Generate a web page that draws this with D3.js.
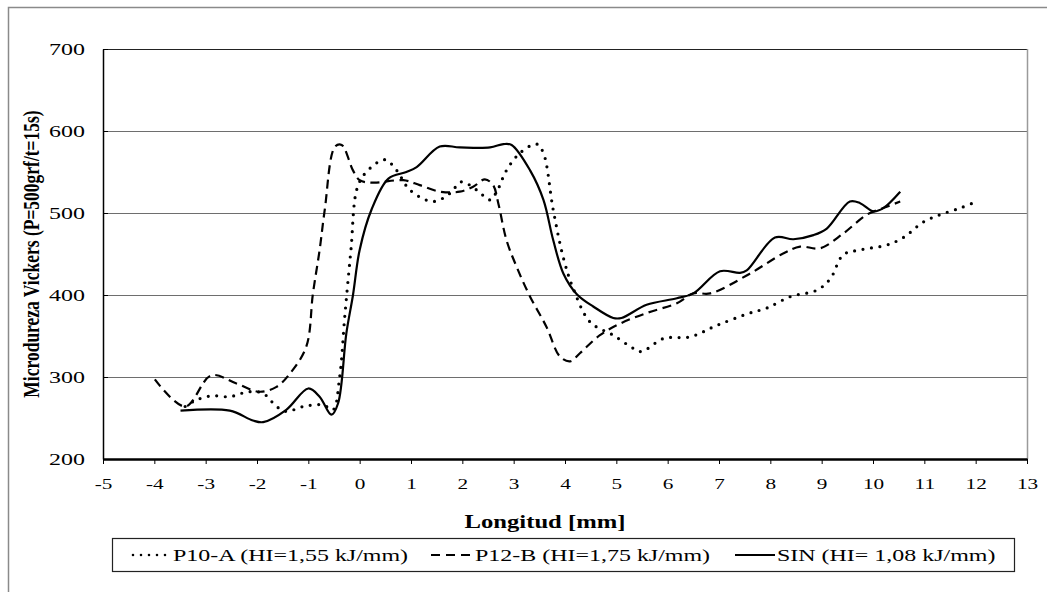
<!DOCTYPE html>
<html>
<head>
<meta charset="utf-8">
<script src="https://cdnjs.cloudflare.com/ajax/libs/d3/7.8.5/d3.min.js"></script>
<style>
  body { margin: 0; background: #fff; }
  svg { display: block; font-family: "Liberation Serif", "Times New Roman", serif; }
  .grid line { stroke: #6e6e6e; stroke-width: 1; }
</style>
</head>
<body>
<svg id="chart" width="1047" height="592"></svg>
<script>
// tick labels
var xTicks = [-5,-4,-3,-2,-1,0,1,2,3,4,5,6,7,8,9,10,11,12,13];
var yTicks = [200,300,400,500,600,700];

// P10-A (dotted)
var p10X = [-3.4,-3.18,-2.89,-2.53,-2.17,-1.88,-1.62,-1.43,-1.10,-0.71,-0.52,-0.39,-0.29,-0.17,-0.05,0.13,0.49,0.72,0.98,1.43,1.76,1.98,2.28,2.54,2.67,2.86,3.12,3.45,3.58,3.77,3.97,4.16,4.49,4.94,5.33,5.49,5.92,6.44,6.96,7.60,7.93,8.39,8.91,9.17,9.42,9.75,10.27,10.59,10.98,11.31,11.70,12.02];
var p10Y = [264,272,277,276,282,280,264,258,264,266,260,300,374,455,530,550,565,552,528,514,524,538,528,516,526,552,573,584,573,504,445,408,367,351,335,331,347,349,363,378,384,398,406,420,449,455,461,470,489,498,506,514];

// P12-B (dashed)
var p12X = [-3.99,-3.40,-2.89,-2.40,-1.95,-1.62,-1.36,-1.04,-0.91,-0.78,-0.68,-0.48,-0.35,-0.13,0.0,0.26,0.85,1.17,1.56,1.95,2.21,2.44,2.60,2.70,2.86,3.06,3.32,3.64,3.90,4.10,4.29,4.68,5.07,5.59,6.18,6.50,6.83,7.60,8.26,8.58,8.97,9.42,9.88,10.2,10.53];
var p12Y = [297,264,302,292,282,288,304,337,402,455,504,581,583,552,540,537,540,534,526,526,532,541,534,512,467,434,398,361,325,319,329,351,365,378,390,402,402,426,451,459,457,475,498,506,514];

// SIN (solid)
var sinX = [-3.49,-2.53,-2.08,-1.88,-1.43,-1.0,-0.78,-0.55,-0.42,-0.26,-0.13,0.0,0.23,0.56,0.91,1.11,1.56,1.95,2.54,2.80,2.96,3.32,3.58,3.77,3.97,4.23,4.55,4.94,5.10,5.59,6.18,6.50,7.02,7.41,7.54,8.09,8.45,8.84,9.10,9.55,9.75,10.01,10.2,10.53];
var sinY = [259,259,247,245,260,286,276,254,268,353,400,455,504,542,550,556,581,580,580,584,583,552,516,467,426,401,386,372,372,388,396,402,429,427,430,470,468,473,481,514,512,502,506,526];

var seriesNames = ["P10-A (HI=1,55 kJ/mm)", "P12-B (HI=1,75 kJ/mm)", "SIN (HI= 1,08 kJ/mm)"];

var stretch = 1.37; // the reference text is horizontally widened

var svg = d3.select("#chart");
var plotLeft = 103, plotRight = 1027, plotTop = 49, plotBottom = 459;

var x = d3.scaleLinear().domain([-5, 13]).range([plotLeft, plotRight]);
var y = d3.scaleLinear().domain([200, 700]).range([plotBottom, plotTop]);

// outer chart border (cropped on right / bottom)
svg.append("rect")
    .attr("x", 8.5).attr("y", 7.5)
    .attr("width", 1100).attr("height", 700)
    .attr("fill", "none").attr("stroke", "#8a8a8a").attr("stroke-width", 1.5);

// gridlines
svg.append("g")
    .attr("class", "grid")
    .selectAll("line")
    .data(yTicks.filter(function(d) { return d > 200 && d < 700; }))
  .enter().append("line")
    .attr("x1", plotLeft).attr("x2", plotRight)
    .attr("y1", function(d) { return Math.round(y(d)) + 0.5; })
    .attr("y2", function(d) { return Math.round(y(d)) + 0.5; });

// top border and right edge
svg.append("line")
    .attr("x1", plotLeft).attr("x2", plotRight)
    .attr("y1", plotTop + 0.5).attr("y2", plotTop + 0.5)
    .attr("stroke", "#222").attr("stroke-width", 1.2);
svg.append("line")
    .attr("x1", plotRight + 0.5).attr("x2", plotRight + 0.5)
    .attr("y1", plotTop).attr("y2", plotBottom)
    .attr("stroke", "#9a9a9a").attr("stroke-width", 1.5);

var plain = function(d) { return String(d); };

// y axis
var yAxis = d3.axisLeft(y).tickValues(yTicks).tickFormat(plain)
    .tickSizeInner(-5).tickSizeOuter(0).tickPadding(0);
var gy = svg.append("g")
    .attr("transform", "translate(" + plotLeft + ",0)")
    .call(yAxis);
gy.select(".domain").attr("stroke", "#000").attr("stroke-width", 1.5);
gy.selectAll(".tick line").attr("stroke", "#000");
gy.selectAll(".tick text")
    .attr("x", 0)
    .attr("text-anchor", "end")
    .attr("transform", "translate(-18,0) scale(" + stretch + ",1)")
    .attr("font-size", 17.5)
    .attr("font-family", "Liberation Serif")
    .attr("fill", "#000");

// x axis
var xAxis = d3.axisBottom(x).tickValues(xTicks).tickFormat(plain)
    .tickSizeInner(5).tickSizeOuter(0);
var gx = svg.append("g")
    .attr("transform", "translate(0," + plotBottom + ")")
    .call(xAxis);
gx.select(".domain").attr("stroke", "#000").attr("stroke-width", 2.5);
gx.selectAll(".tick line").attr("stroke", "#000");
gx.selectAll(".tick text")
    .attr("y", 19)
    .attr("transform", "scale(" + stretch + ",1)")
    .attr("font-size", 15.5)
    .attr("font-family", "Liberation Serif")
    .attr("fill", "#000");

// axis titles
svg.append("text")
    .attr("transform", "translate(545,528) scale(" + stretch + ",1)")
    .attr("text-anchor", "middle")
    .attr("font-weight", "bold")
    .attr("font-size", 18)
    .text("Longitud [mm]");

svg.append("text")
    .attr("transform", "translate(39,254) scale(" + stretch + ",1) rotate(-90)")
    .attr("text-anchor", "middle")
    .attr("font-weight", "bold")
    .attr("font-size", 17.5)
    .text("Microdureza Vickers (P=500grf/t=15s)");

// series lines
var line = d3.line()
    .x(function(d) { return x(d[0]); })
    .y(function(d) { return y(d[1]); })
    .curve(d3.curveCatmullRom.alpha(0.5));

var series = [
    { name: seriesNames[0], pts: d3.zip(p10X, p10Y), dash: "0,8.5", width: 3.2, cap: "round",
      legendDash: "0,8", legendWidth: 2.6 },
    { name: seriesNames[1], pts: d3.zip(p12X, p12Y), dash: "9,5.5", width: 2.2, cap: "butt",
      legendDash: "9,6", legendWidth: 2 },
    { name: seriesNames[2], pts: d3.zip(sinX, sinY), dash: null, width: 2.2, cap: "butt",
      legendDash: null, legendWidth: 2 }
];

svg.append("g").selectAll("path")
    .data(series)
  .enter().append("path")
    .attr("d", function(d) { return line(d.pts); })
    .attr("fill", "none")
    .attr("stroke", "#000")
    .attr("stroke-width", function(d) { return d.width; })
    .attr("stroke-dasharray", function(d) { return d.dash; })
    .attr("stroke-linecap", function(d) { return d.cap; })
    .attr("stroke-linejoin", "round");

// legend
svg.append("rect")
    .attr("x", 112.5).attr("y", 538.5)
    .attr("width", 902).attr("height", 33)
    .attr("fill", "#fff").attr("stroke", "#222").attr("stroke-width", 1.2);

var legendPos = [
    { x1: 133, x2: 167, tx: 173 },
    { x1: 431, x2: 470, tx: 475 },
    { x1: 735, x2: 775, tx: 777 }
];

var lg = svg.append("g").selectAll("g")
    .data(series)
  .enter().append("g");

lg.append("line")
    .attr("x1", function(d, i) { return legendPos[i].x1; })
    .attr("x2", function(d, i) { return legendPos[i].x2; })
    .attr("y1", 555).attr("y2", 555)
    .attr("stroke", "#000")
    .attr("stroke-width", function(d) { return d.legendWidth; })
    .attr("stroke-dasharray", function(d) { return d.legendDash; })
    .attr("stroke-linecap", function(d) { return d.cap; });

lg.append("text")
    .attr("transform", function(d, i) {
        return "translate(" + legendPos[i].tx + ",561) scale(" + stretch + ",1)";
    })
    .attr("font-size", 17.5)
    .text(function(d) { return d.name; });
</script>
</body>
</html>
